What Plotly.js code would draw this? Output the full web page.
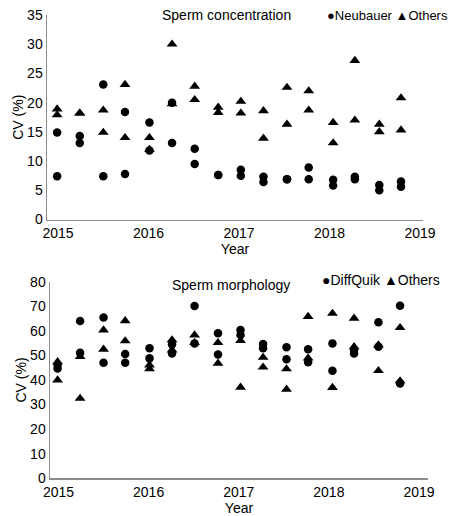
<!DOCTYPE html>
<html>
<head>
<meta charset="utf-8">
<script src="https://cdn.plot.ly/plotly-3.0.1.min.js"></script>
<style>html,body{margin:0;padding:0;background:#fff;}#chart{width:451px;height:516px;}</style>
</head>
<body>
<div id="chart"></div>
<script>
// x positions (decimal year) of each sampling round, 2 samples per round
const rounds = [2014.99, 2015.24, 2015.50, 2015.74, 2016.01, 2016.26, 2016.51, 2016.77,
                2017.02, 2017.27, 2017.53, 2017.77, 2018.04, 2018.28, 2018.55, 2018.79];
const yearTicks = [2015, 2016, 2017, 2018, 2019];

// Sperm concentration CV (%)
const concNeubauerA = [14.9, 14.3, 23.1, 18.4, 16.6, 20.0, 12.1, 7.6, 8.5, 7.3, 6.9, 8.9, 6.8, 7.3, 5.9, 6.5];
const concNeubauerB = [7.4, 13.1, 7.4, 7.8, 11.8, 13.1, 9.5, 7.6, 7.5, 6.4, 6.9, 6.9, 5.8, 6.9, 5.0, 5.6];
const concOthersA   = [18.9, 18.2, 18.7, 23.1, 14.0, 30.0, 22.8, 19.2, 20.2, 18.6, 22.6, 22.0, 16.6, 27.2, 16.3, 20.8];
const concOthersB   = [17.9, 18.2, 14.9, 14.0, 12.0, 19.8, 20.5, 18.3, 18.2, 13.9, 16.3, 18.7, 13.1, 17.0, 15.0, 15.3];

// Sperm morphology CV (%)
const morphDiffQuikA = [46.1, 64.0, 65.4, 50.6, 52.9, 54.5, 70.1, 59.0, 60.3, 54.6, 53.3, 52.5, 54.9, 52.2, 63.5, 70.2];
const morphDiffQuikB = [44.7, 51.1, 47.0, 47.0, 48.8, 50.8, 54.9, 50.4, 58.3, 52.9, 48.4, 47.2, 43.8, 50.8, 53.5, 38.6];
const morphOthersA   = [47.4, 49.5, 60.3, 64.1, 46.1, 56.3, 58.3, 55.2, 56.0, 49.2, 44.5, 65.8, 67.1, 65.1, 54.2, 61.3];
const morphOthersB   = [40.0, 32.5, 52.5, 55.9, 44.5, 52.2, 55.2, 46.8, 37.0, 45.2, 36.2, 48.9, 36.9, 53.5, 43.8, 39.6];

const xs = rounds.concat(rounds);
const black = '#000000';
const fontFam = 'Arial, "Liberation Sans", sans-serif';

function series(y, sym, xa, ya, name, size) {
  return {
    type: 'scatter', mode: 'markers', x: xs, y: y, name: name,
    xaxis: xa, yaxis: ya, showlegend: false,
    marker: {symbol: sym, color: black, size: size}
  };
}

const data = [
  series(concNeubauerA.concat(concNeubauerB), 'circle', 'x', 'y', 'Neubauer', 8.5),
  series(concOthersA.concat(concOthersB), 'triangle-up', 'x', 'y', 'Others', 9.5),
  series(morphDiffQuikA.concat(morphDiffQuikB), 'circle', 'x2', 'y2', 'DiffQuik', 8.5),
  series(morphOthersA.concat(morphOthersB), 'triangle-up', 'x2', 'y2', 'Others', 9.5)
];

const axisLine = '#8c8c8c';
const tickFont = {family: fontFam, size: 14, color: '#000'};
function xAxis(domain, range, anchor) {
  return {
    domain: domain, range: range, anchor: anchor,
    tickvals: yearTicks, ticktext: yearTicks.map(String),
    showgrid: false, zeroline: false, showline: true, linecolor: axisLine, linewidth: 1.5,
    ticks: '', tickfont: tickFont,
    title: {text: 'Year', font: {family: fontFam, size: 14, color: '#000'}, standoff: 2}
  };
}
function yAxis(domain, range, dtick, anchor) {
  return {
    domain: domain, range: range, anchor: anchor, dtick: dtick,
    showgrid: false, zeroline: false, showline: true, linecolor: axisLine, linewidth: 1.5,
    ticks: '', tickfont: tickFont, ticklabelstandoff: 0,
    title: {text: 'CV (%)', font: {family: fontFam, size: 14, color: '#000'}, standoff: 0}
  };
}

const layout = {
  width: 451, height: 516,
  margin: {l: 0, r: 0, t: 0, b: 0},
  paper_bgcolor: '#fff', plot_bgcolor: '#fff',
  font: {family: fontFam, size: 14, color: '#000'},
  showlegend: false,
  xaxis: xAxis([47/451, 423/451], [2014.878, 2019.033], 'y'),
  yaxis: yAxis([296.5/516, 501/516], [0, 35], 5, 'x'),
  xaxis2: xAxis([50/451, 428/451], [2014.906, 2019.1], 'y2'),
  yaxis2: yAxis([37.7/516, 234.3/516], [0, 80], 10, 'x2'),
  annotations: [
    {text: 'Sperm concentration', xref: 'paper', yref: 'paper', x: 226/451, y: 1 - 15/516,
     xanchor: 'center', yanchor: 'middle', showarrow: false, font: {family: fontFam, size: 14}},
    {text: '●Neubauer ▲Others', xref: 'paper', yref: 'paper', x: 450/451, y: 1 - 15/516,
     xanchor: 'right', yanchor: 'middle', showarrow: false, font: {family: fontFam, size: 13}},
    {text: 'Sperm morphology', xref: 'paper', yref: 'paper', x: 231/451, y: 1 - 285/516,
     xanchor: 'center', yanchor: 'middle', showarrow: false, font: {family: fontFam, size: 14}},
    {text: '●DiffQuik ▲Others', xref: 'paper', yref: 'paper', x: 442/451, y: 1 - 280/516,
     xanchor: 'right', yanchor: 'middle', showarrow: false, font: {family: fontFam, size: 14}}
  ]
};

Plotly.newPlot('chart', data, layout, {displayModeBar: false, staticPlot: true});
</script>
</body>
</html>
